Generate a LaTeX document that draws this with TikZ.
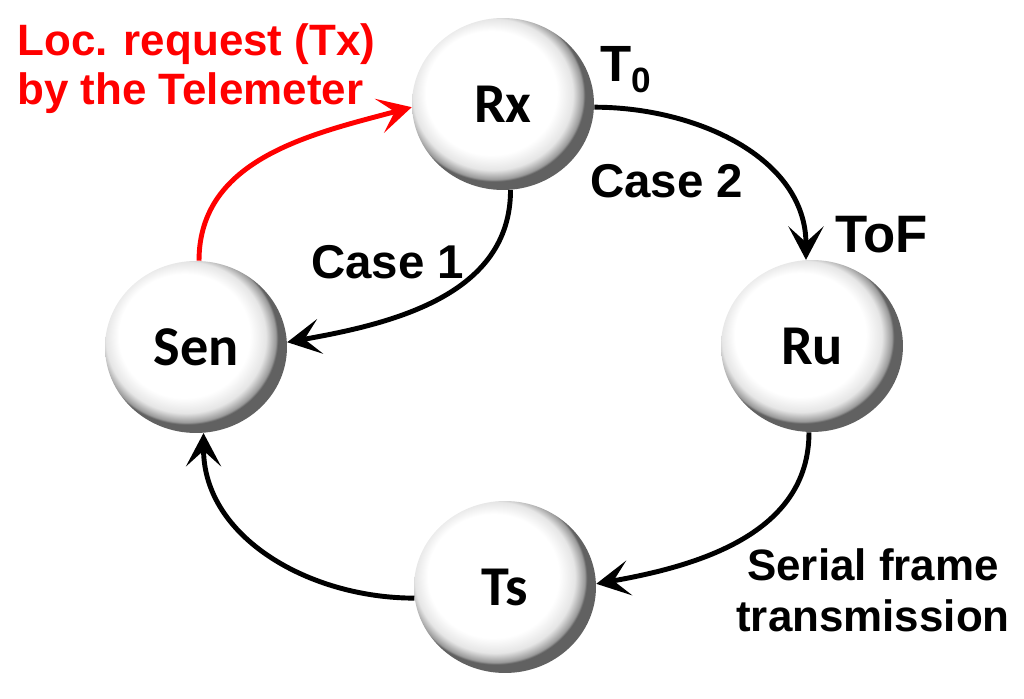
\documentclass[tikz,border=0pt]{standalone}
\usepackage{fontspec}
\setmainfont{Liberation Sans}
\newfontfamily\statefont{Carlito}
\usepackage{tikz}
\usetikzlibrary{shapes.geometric,arrows.meta}
\definecolor{locred}{HTML}{FF0000}
\definecolor{ink}{HTML}{000000}
\pgfdeclareradialshading{pearl}{\pgfpoint{-5bp}{5bp}}{color(0bp)=(white); color(18bp)=(white); color(22bp)=(black!10); color(24.5bp)=(black!40); color(25bp)=(black!62); color(50bp)=(black!62)}
\tikzset{
  state/.style={ellipse, minimum width=3.64cm, minimum height=3.44cm, inner sep=0pt,
    shading=pearl, font=\statefont\bfseries\fontsize{32}{32}\selectfont},
  lbl/.style={anchor=base west, inner sep=0pt, text=ink,
    font=\bfseries\fontsize{27}{28}\selectfont},
  flow/.style={line width=2.8pt, ink, -{Stealth[length=19pt,width=20pt,inset=9pt]}}
}

\begin{document}
\begin{tikzpicture}[x=0.02cm, y=-0.02cm]
\useasboundingbox (0,0) rectangle (1024,699);
% the four states
\node[state] (Rx)  at (503,104) {Rx};
\node[state] (Sen) at (196,347) {Sen};
\node[state] (Ru)  at (812,346) {Ru};
\node[state] (Ts)  at (505,587) {Ts};
% transitions
\draw[flow, locred] (Sen.88) to[out=90, in=195] (Rx.182);
\draw[flow] (Rx.-2) to[out=0, in=90] (Ru.94);
\draw[flow] (Rx.-85) to[out=-90, in=10] (Sen.3);
\draw[flow] (Ru.-92) to[out=-90, in=10] (Ts.2);
\draw[flow] (Ts.187) to[out=180, in=-90] (Sen.-85);
% labels
\node[lbl, text=locred, align=left, anchor=north west, font=\bfseries\fontsize{25}{28}\selectfont] (req) at (17,23) {Loc. request (Tx)\\by the Telemeter};
\node[lbl, font=\bfseries\fontsize{29}{29}\selectfont] (tzero) at (600,82) {T\raisebox{-0.22cm}{\fontsize{20}{20}\selectfont 0}};
\node[lbl, font=\bfseries\fontsize{30}{30}\selectfont] (tof) at (835,253) {ToF};
\node[lbl] (case2) at (590,198) {Case 2};
\node[lbl] (case1) at (311,278) {Case 1};
\node[lbl, align=center, anchor=north, font=\bfseries\fontsize{25}{29}\selectfont] (serial) at (873,548) {Serial frame\\transmission};
\end{tikzpicture}
\end{document}
